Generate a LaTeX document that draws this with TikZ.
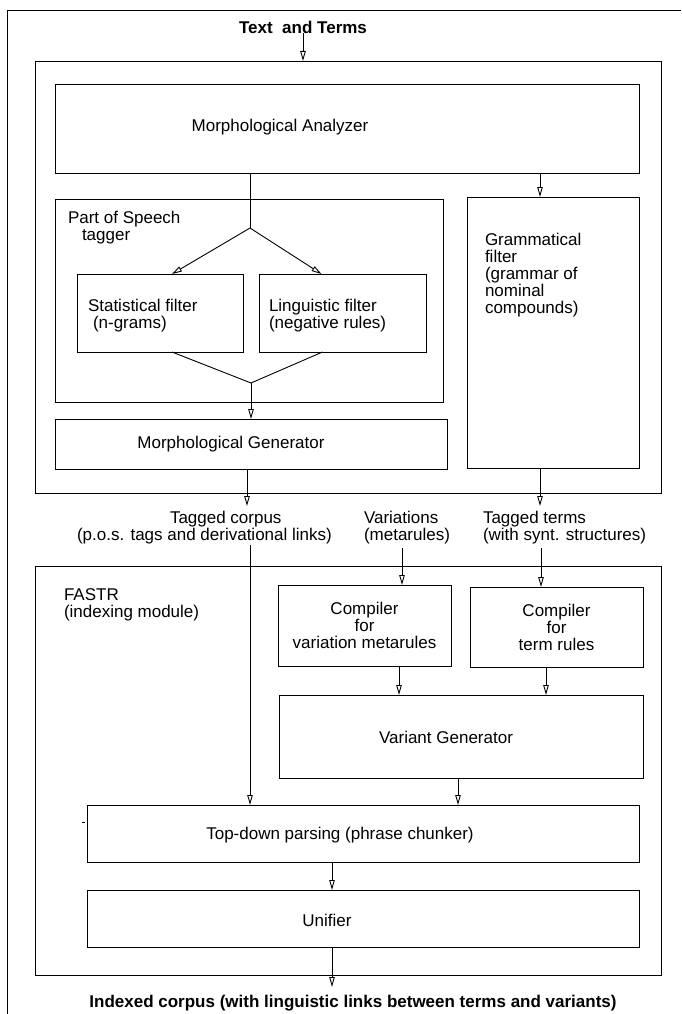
\documentclass[tikz,border=0pt]{standalone}
\usepackage{fontspec}
\setmainfont{Liberation Sans}
\usetikzlibrary{arrows.meta}
\begin{document}
\begin{tikzpicture}[x=1pt,y=-1pt,
  every node/.style={font=\fontsize{17pt}{17pt}\selectfont, inner sep=0pt, outer sep=0pt},
  bx/.style={draw, line width=0.9pt},
  ln/.style={line width=0.9pt},
  arr/.style={line width=0.9pt, -{Triangle[open,length=10pt,width=5.5pt]}},
  lbl/.style={align=left, anchor=west},
  bold/.style={font=\fontsize{17pt}{17pt}\selectfont\bfseries}]
\useasboundingbox (0,0) rectangle (681,1014);
% outer frame (only top and left edges visible)
\draw[ln] (681,10) -- (7,10) -- (7,1014);

% ---------- upper module ----------
\node[bx, minimum width=626pt, minimum height=432pt] (box1) at (348,277) {};
\node[bx, minimum width=584pt, minimum height=89pt] (ma) at (347,128.5) {};
\node[bx, minimum width=388pt, minimum height=203pt] (pos) at (249,300.5) {};
\node[bx, minimum width=166pt, minimum height=78pt] (stat) at (160,313) {};
\node[bx, minimum width=167pt, minimum height=78pt] (ling) at (342.5,313) {};
\node[bx, minimum width=392pt, minimum height=50pt] (mg) at (251,444) {};
\node[bx, minimum width=172pt, minimum height=271pt] (gf) at (553,332.5) {};

\node[bold] (src) at (303,27) {Text~~and Terms};
\node (tma) at (280,127) {Morphological Analyzer};
\node[lbl] (tpos) at (68,228) {Part of Speech\\\hspace*{14pt}tagger};
\node[lbl] (tstat) at (88,316) {Statistical filter\\\hspace*{5pt}(n-grams)};
\node[lbl] (tling) at (269,316) {Linguistic filter\\(negative rules)};
\node (tmg) at (231,444) {Morphological Generator};
\node[lbl] (tgf) at (485,275) {Grammatical\\filter\\(grammar of\\nominal\\compounds)};

% ---------- intermediate data ----------
\node[lbl] (tcorp) at (77,528) {\hspace*{93pt}Tagged corpus\\(p.o.s. tags and derivational links)};
\node[lbl] (tvar) at (364,528) {Variations\\(metarules)};
\node[lbl] (tterm) at (483,528) {Tagged terms\\(with synt. structures)};

% ---------- FASTR module ----------
\node[bx, minimum width=626pt, minimum height=409pt] (box2) at (348,770.5) {};
\node[lbl] (tfastr) at (64,604.5) {FASTR\\(indexing module)};
\node[bx, minimum width=173pt, minimum height=81pt, align=center] (c1) at (364.5,625.5) {Compiler\\for\\variation metarules};
\node[bx, minimum width=173pt, minimum height=80pt, align=center] (c2) at (556.5,627) {Compiler\\for\\term rules};
\node[bx, minimum width=364pt, minimum height=83pt] (vg) at (461,736.5) {};
\node (tvg) at (446,737) {Variant Generator};
\node[bx, minimum width=552pt, minimum height=57pt] (td) at (363,833.5) {};
\node (ttd) at (340,835) {Top-down parsing (phrase chunker)};
\node[bx, minimum width=552pt, minimum height=57pt] (un) at (363,918.5) {};
\node (tun) at (327,920) {Unifier};
\node[bold] (out) at (353,1003) {Indexed corpus (with linguistic links between terms and variants)};

% stray tick left of the parser box
\draw[line width=0.6pt] (82,822) -- (84.5,822);

% ---------- helper coordinates ----------
\coordinate (fork) at (250,228);
\coordinate (merge) at (251,383);
\coordinate (xgf) at (540,0);
\coordinate (tcout) at (247,506);
\coordinate (ttout) at (540,506);
\coordinate (tcin) at (250,545);
\coordinate (varin) at (402,548);
\coordinate (ttin) at (541,548);
\coordinate (outc) at (332,987);

% ---------- connectors ----------
\draw[arr] (src.south) -- (src.south |- box1.north);
\draw[ln] (fork |- ma.south) -- (fork);
\draw[arr] (fork) -- ([xshift=12pt]stat.north);
\draw[arr] (fork) -- ([xshift=-21pt]ling.north);
\draw[ln] ([xshift=12pt]stat.south) -- (merge) -- ([xshift=-20pt]ling.south);
\draw[arr] (merge) -- (merge |- mg.north);
\draw[arr] (xgf |- ma.south) -- (xgf |- gf.north);
\draw[arr] (tcout |- mg.south) -- (tcout);
\draw[arr] (ttout |- gf.south) -- (ttout);
\draw[arr] (tcin) -- (tcin |- td.north);
\draw[arr] (varin) -- (varin |- c1.north);
\draw[arr] (ttin) -- (ttin |- c2.north);
\draw[arr] ([xshift=34.5pt]c1.south) -- ([xshift=34.5pt]c1.south |- vg.north);
\draw[arr] ([xshift=-10.5pt]c2.south) -- ([xshift=-10.5pt]c2.south |- vg.north);
\draw[arr] ([xshift=-3pt]vg.south) -- ([xshift=-3pt]vg.south |- td.north);
\draw[arr] ([xshift=-31pt]td.south) -- ([xshift=-31pt]td.south |- un.north);
\draw[arr] ([xshift=-31pt]un.south) -- (outc);
\end{tikzpicture}
\end{document}
